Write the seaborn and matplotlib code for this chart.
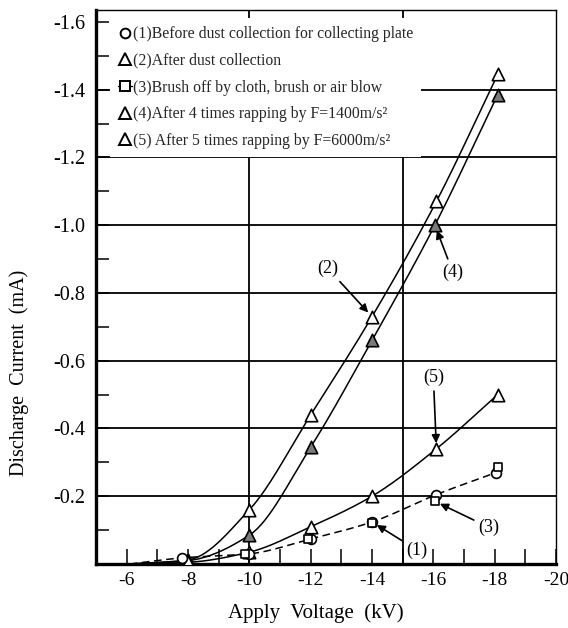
import numpy as np
import pandas as pd
import matplotlib
matplotlib.use("Agg")
import matplotlib.pyplot as plt
from matplotlib.lines import Line2D
from matplotlib.ticker import MultipleLocator, FixedLocator
import seaborn as sns

sns.set_theme(style="white")
plt.rcParams['font.family'] = ['Liberation Serif', 'DejaVu Serif']

# ---------------- data ----------------
curve_start_v = -6.1          # curves start flat near zero
curve_start_i = 0.0

v2 = [-8.0, -10.0, -12.0, -14.0, -16.1, -18.1]
i2 = [-0.012, -0.16, -0.44, -0.73, -1.07, -1.445]

v4 = [-8.0, -10.0, -12.0, -14.0, -16.05, -18.1]
i4 = [-0.01, -0.085, -0.345, -0.66, -1.0, -1.385]

v5 = [-8.0, -10.0, -12.0, -14.0, -16.1, -18.1]
i5 = [-0.005, -0.035, -0.11, -0.20, -0.34, -0.50]

v1 = [-7.8, -10.0, -12.0, -14.0, -16.1, -18.05]
i1 = [-0.018, -0.03, -0.074, -0.124, -0.205, -0.27]

v3 = [-9.85, -11.9, -14.0, -16.05, -18.1]
i3 = [-0.03, -0.074, -0.12, -0.185, -0.285]

legend_labels = [
    "(1)Before dust collection for collecting plate",
    "(2)After dust collection",
    "(3)Brush off by cloth, brush or air blow",
    "(4)After 4 times rapping by F=1400m/s²",
    "(5) After 5 times rapping by F=6000m/s²",
]

xticks = [-6, -8, -10, -12, -14, -16, -18, -20]
yticks = [-1.6, -1.4, -1.2, -1.0, -0.8, -0.6, -0.4, -0.2]
xlabel = "Apply  Voltage  (kV)"
ylabel = "Discharge  Current  (mA)"

# annotations: label, target point
ann = [
    ("(2)", (v2[3], i2[3])),
    ("(4)", (v4[4], i4[4])),
    ("(5)", (v5[4], i5[4])),
    ("(3)", (v3[3], i3[3])),
    ("(1)", (v1[3], i1[3])),
]


def smooth(vs, cs, n=200):
    """monotone cubic (PCHIP) curve through the given points for drawing"""
    u = -np.asarray(vs, float)
    y = np.asarray(cs, float)
    h = np.diff(u)
    d = np.diff(y) / h
    m = np.zeros_like(y)
    for k in range(1, len(y) - 1):
        if d[k - 1] * d[k] > 0:
            w1 = 2 * h[k] + h[k - 1]
            w2 = h[k] + 2 * h[k - 1]
            m[k] = (w1 + w2) / (w1 / d[k - 1] + w2 / d[k])
    m[0] = d[0]
    m[-1] = d[-1]
    us = np.linspace(u[0], u[-1], n)
    idx = np.clip(np.searchsorted(u, us) - 1, 0, len(u) - 2)
    t = (us - u[idx]) / h[idx]
    h00 = 2 * t**3 - 3 * t**2 + 1
    h10 = t**3 - 2 * t**2 + t
    h01 = -2 * t**3 + 3 * t**2
    h11 = t**3 - t**2
    ys = h00 * y[idx] + h10 * h[idx] * m[idx] + h01 * y[idx + 1] + h11 * h[idx] * m[idx + 1]
    return pd.DataFrame({"v": -us, "i": ys})


fig = plt.figure(figsize=(5.68, 6.28), dpi=100)
ax = fig.add_axes([96 / 568, 1 - 564 / 628, 460 / 568, 554 / 628])

lw = 1.1
for vs, cs in [(v2, i2), (v4, i4), (v5, i5)]:
    df = smooth([curve_start_v] + vs, [curve_start_i] + cs)
    sns.lineplot(data=df, x="v", y="i", ax=ax, color="black", lw=lw, sort=False,
                 estimator=None, zorder=3)

# dashed curve for (1)/(3)
df1 = smooth([curve_start_v] + v1, [curve_start_i] + i1)
sns.lineplot(data=df1, x="v", y="i", ax=ax, color="black", lw=lw, sort=False,
             estimator=None, zorder=3, linestyle=(0, (5, 3)))

ms2 = 80
sns.scatterplot(x=v2, y=i2, ax=ax, marker="^", s=ms2, facecolor="white",
                edgecolor="black", linewidth=1.2, zorder=4)
sns.scatterplot(x=v4, y=i4, ax=ax, marker="^", s=ms2, facecolor="#7a7a7a",
                edgecolor="black", linewidth=1.2, zorder=4)
sns.scatterplot(x=v5, y=i5, ax=ax, marker="^", s=ms2, facecolor="white",
                edgecolor="black", linewidth=1.2, zorder=4)
sns.scatterplot(x=v1, y=i1, ax=ax, marker="o", s=50, facecolor="white",
                edgecolor="black", linewidth=1.2, zorder=4)
sns.scatterplot(x=v3, y=i3, ax=ax, marker="s", s=40, facecolor="white",
                edgecolor="black", linewidth=1.2, zorder=4)

ax.set_xlim(-5.0, -20.0)
ax.set_ylim(0.0, -1.635)

# grid lines
for yv in [-0.2, -0.4, -0.6, -0.8, -1.0, -1.2, -1.4]:
    ax.axhline(yv, color="black", lw=1.3, zorder=1)
for xv in [-10, -15]:
    ax.axvline(xv, color="black", lw=1.3, zorder=1)

# ticks
ax.xaxis.set_major_locator(FixedLocator(xticks))
ax.xaxis.set_minor_locator(MultipleLocator(1))
ax.yaxis.set_major_locator(FixedLocator(yticks))
ax.yaxis.set_minor_locator(MultipleLocator(0.1))
ax.set_xticklabels([f"{t:d}" for t in xticks])
ax.set_yticklabels([f"{t:.1f}" for t in yticks])
ax.tick_params(axis="x", which="both", direction="in", length=11, width=1.1,
               bottom=True, top=False, labelsize=14, pad=6, colors="black")
ax.tick_params(axis="y", which="both", direction="in", length=9, width=1.1,
               left=True, right=False, labelsize=14.5, pad=8, colors="black")

for side, w in [("left", 2.4), ("bottom", 2.4), ("top", 1.0), ("right", 1.0)]:
    ax.spines[side].set_visible(True)
    ax.spines[side].set_color("black")
    ax.spines[side].set_linewidth(w)

ax.set_xlabel(xlabel, fontsize=15, color="black", va="center", ha="center")
ax.set_ylabel(ylabel, fontsize=14.5, color="black", va="center", ha="center")
ax.xaxis.set_label_coords((316 - 96) / 460, -(613 - 564) / 554)
ax.yaxis.set_label_coords((19 - 96) / 460, (564 - 373) / 554)

# annotations (text offsets in pixels from the target point)
offsets = {
    "(2)": (-44, 48),
    "(4)": (18, -47),
    "(5)": (-3, 71),
    "(3)": (54, -26),
    "(1)": (45, -28),
}
for lab, xy in ann:
    ax.annotate(lab, xy=xy, xytext=offsets[lab], textcoords="offset pixels",
                fontsize=13, ha="center", va="center", color="black",
                arrowprops=dict(arrowstyle="-|>", color="black", lw=1.2,
                                mutation_scale=12, shrinkA=1, shrinkB=4),
                zorder=6)

# legend
handles = [
    Line2D([], [], marker="o", ls="none", mfc="white", mec="black", ms=7, mew=1.4),
    Line2D([], [], marker="^", ls="none", mfc="white", mec="black", ms=9, mew=1.4),
    Line2D([], [], marker="s", ls="-", color="black", lw=1.0, mfc="white", mec="black", ms=7, mew=1.4),
    Line2D([], [], marker="^", ls="none", mfc="white", mec="black", ms=9, mew=1.4),
    Line2D([], [], marker="^", ls="none", mfc="white", mec="black", ms=9, mew=1.4),
]
leg = ax.legend(handles, legend_labels, loc="upper left",
                bbox_to_anchor=(0.03, 0.985), frameon=True, fancybox=False,
                facecolor="white", edgecolor="none", framealpha=1.0,
                fontsize=11.3, handlelength=0.9, handletextpad=0.1,
                labelspacing=0.68, borderpad=0.5, borderaxespad=0.0)
leg.set_zorder(5)

fig.savefig("out.png", dpi=100)
